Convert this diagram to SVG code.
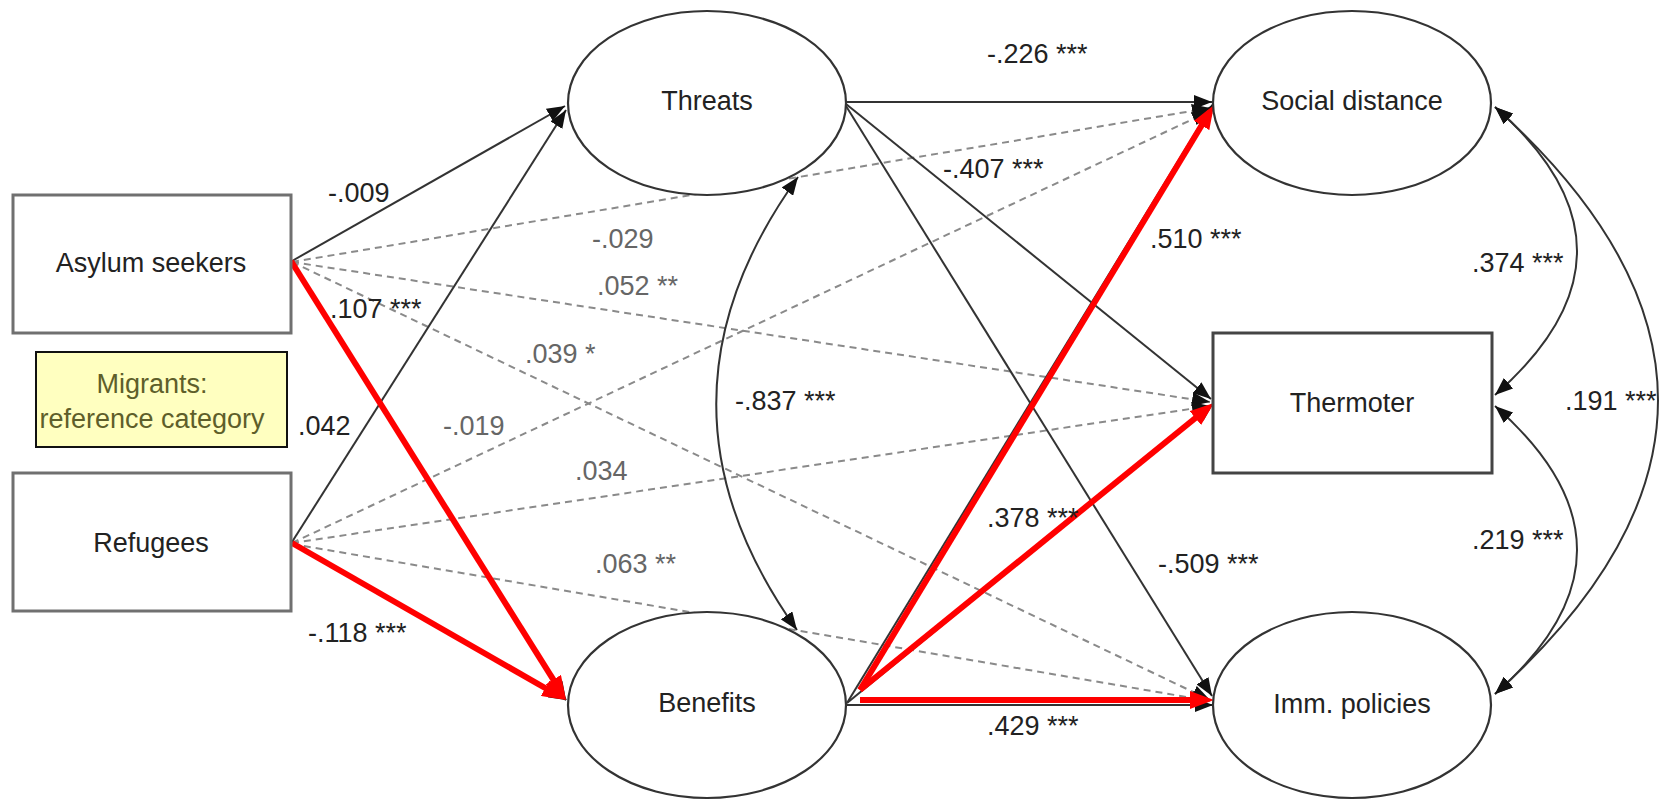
<svg xmlns="http://www.w3.org/2000/svg" width="1662" height="807" viewBox="0 0 1662 807">
<style>
text{font-family:"Liberation Sans",Arial,sans-serif;font-size:27px;fill:#222}
.lbl{fill:#222}
.lg{fill:#666}
.sol{fill:none;stroke:#333;stroke-width:2;marker-end:url(#ah)}
.dsh{fill:none;stroke:#8a8a8a;stroke-width:2;stroke-dasharray:7 5;marker-end:url(#ah)}
.red{fill:none;stroke:#ff0000;stroke-width:6;marker-end:url(#ahr)}
.cov{fill:none;stroke:#333;stroke-width:2;marker-start:url(#ah);marker-end:url(#ah)}
.ell{fill:#fff;stroke:#333;stroke-width:2.2}
.box{fill:#fff;stroke:#707070;stroke-width:3}
.mid{text-anchor:middle}
</style>
<defs>
<marker id="ah" viewBox="0 0 18 14" refX="18" refY="7" markerWidth="18" markerHeight="14" markerUnits="userSpaceOnUse" orient="auto-start-reverse"><path d="M0,0 L18,7 L0,14 z" fill="#111"/></marker>
<marker id="ahr" viewBox="0 0 24 18" refX="16" refY="9" markerWidth="24" markerHeight="18" markerUnits="userSpaceOnUse" orient="auto"><path d="M0,0 L24,9 L0,18 z" fill="#ff0000"/></marker>
</defs>
<rect width="1662" height="807" fill="#fff"/>
<g id="connectors">
<path class="dsh" d="M292,262 L1210,108"/>
<path class="dsh" d="M292,262 L1210,402"/>
<path class="dsh" d="M292,262 L1210,700"/>
<path class="dsh" d="M292,543 L1210,111"/>
<path class="dsh" d="M292,543 L1210,406"/>
<path class="dsh" d="M292,544 L1210,701"/>
<path class="sol" d="M292,261 L565,106"/>
<path class="sol" d="M292,542 L566,110"/>
<path class="sol" d="M292,261 L566,700"/>
<path class="sol" d="M292,543 L566,700"/>
<path class="sol" d="M846,102 L1212,102"/>
<path class="sol" d="M846,104 L1211,399"/>
<path class="sol" d="M846,106 L1212,696"/>
<path class="sol" d="M847,703 L1213,104"/>
<path class="sol" d="M847,703 L1213,404"/>
<path class="sol" d="M847,705 L1213,705"/>
<path class="red" d="M291,261 L561.8,693.2"/>
<path class="red" d="M292,543 L559.1,696"/>
<path class="red" d="M860,690 L1209.9,111.8"/>
<path class="red" d="M860,690 L1207.8,408"/>
<path class="red" d="M860,700 L1206,700"/>
<path class="cov" d="M798,177 Q635,403 797,630"/>
<path class="cov" d="M1495,107 Q1659,251 1495,395"/>
<path class="cov" d="M1495,406 Q1659,550 1495,694"/>
<path class="cov" d="M1495,107 Q1821,400 1495,694"/>
<text class="lbl" x="328" y="202">-.009</text>
<text class="lbl" x="330" y="318">.107 ***</text>
<text class="lg" x="592" y="248">-.029</text>
<text class="lg" x="597" y="295">.052 **</text>
<text class="lg" x="525" y="363">.039 *</text>
<text class="lbl" x="298" y="435">.042</text>
<text class="lg" x="443" y="435">-.019</text>
<text class="lg" x="575" y="480">.034</text>
<text class="lg" x="595" y="573">.063 **</text>
<text class="lbl" x="308" y="642">-.118 ***</text>
<text class="lbl" x="735" y="410">-.837 ***</text>
<text class="lbl" x="987" y="63">-.226 ***</text>
<text class="lbl" x="943" y="178">-.407 ***</text>
<text class="lbl" x="1150" y="248">.510 ***</text>
<text class="lbl" x="987" y="527">.378 ***</text>
<text class="lbl" x="1158" y="573">-.509 ***</text>
<text class="lbl" x="987" y="735">.429 ***</text>
<text class="lbl" x="1472" y="272">.374 ***</text>
<text class="lbl" x="1472" y="549">.219 ***</text>
<text class="lbl" x="1565" y="410">.191 ***</text>
</g>
<g id="asylum">
<rect class="box" x="13" y="195" width="278" height="138"/>
<text class="mid" x="151" y="272">Asylum seekers</text>
</g>
<g id="migrants">
<rect x="36" y="352" width="251" height="95" fill="#ffffc0" stroke="#111" stroke-width="2"/>
<text class="mid" x="152" y="393" style="fill:#5e5e2a">Migrants:</text>
<text class="mid" x="152" y="428" style="fill:#5e5e2a">reference category</text>
</g>
<g id="refugees">
<rect class="box" x="13" y="473" width="278" height="138"/>
<text class="mid" x="151" y="552">Refugees</text>
</g>
<g id="threats">
<ellipse class="ell" cx="707" cy="103" rx="139" ry="92"/>
<text class="mid" x="707" y="110">Threats</text>
</g>
<g id="benefits">
<ellipse class="ell" cx="707" cy="705" rx="139" ry="93"/>
<text class="mid" x="707" y="712">Benefits</text>
</g>
<g id="social-distance">
<ellipse class="ell" cx="1352" cy="103" rx="139" ry="92"/>
<text class="mid" x="1352" y="110">Social distance</text>
</g>
<g id="thermoter">
<rect x="1213" y="333" width="279" height="140" fill="#fff" stroke="#444" stroke-width="3"/>
<text class="mid" x="1352" y="412">Thermoter</text>
</g>
<g id="imm-policies">
<ellipse class="ell" cx="1352" cy="705" rx="139" ry="93"/>
<text class="mid" x="1352" y="713">Imm. policies</text>
</g>
</svg>
